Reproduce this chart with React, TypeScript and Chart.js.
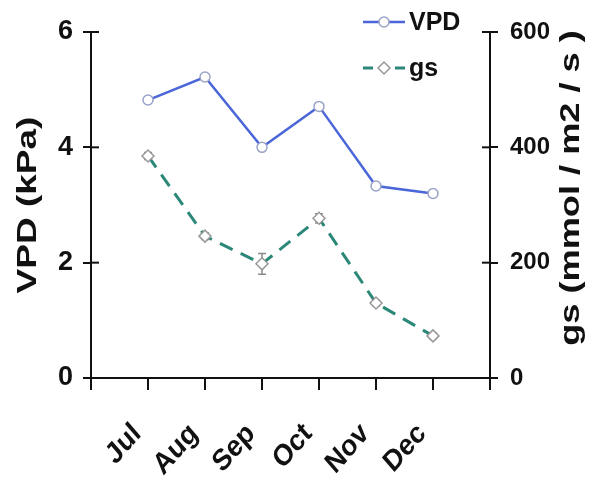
import React, { useEffect, useRef } from "react";
import { Chart, registerables } from "chart.js";

Chart.register(...registerables);

const months = ["Jul", "Aug", "Sep", "Oct", "Nov", "Dec"];
const vpd = [4.82, 5.22, 4.0, 4.71, 3.33, 3.2];
const gs = [385, 246, 198, 277, 130, 73];
const gsErr = [6, 6, 18, 8, 5, 5];
const vpdTicks = [0, 2, 4, 6];
const gsTicks = [0, 200, 400, 600];

const FONT = "'Liberation Sans', Arial, sans-serif";
const VPD_COLOR = "#4A66D8";
const GS_COLOR = "#2B8777";

const extrasPlugin = {
  id: "extras",
  beforeDatasetsDraw(chart: any) {
    const ctx = chart.ctx;
    const x = chart.scales.x;
    const y2 = chart.scales.y2;
    ctx.save();
    ctx.strokeStyle = "#8a8a8a";
    ctx.lineWidth = 1.5;
    gs.forEach((v, i) => {
      const px = x.getPixelForValue(i + 1);
      const top = y2.getPixelForValue(v + gsErr[i]);
      const bot = y2.getPixelForValue(v - gsErr[i]);
      ctx.beginPath();
      ctx.moveTo(px, top);
      ctx.lineTo(px, bot);
      ctx.moveTo(px - 4, top);
      ctx.lineTo(px + 4, top);
      ctx.moveTo(px - 4, bot);
      ctx.lineTo(px + 4, bot);
      ctx.stroke();
    });
    ctx.restore();
  },
  afterDraw(chart: any) {
    const ctx = chart.ctx;
    const area = chart.chartArea;
    const x = chart.scales.x;
    const y = chart.scales.y;
    const y2 = chart.scales.y2;
    ctx.save();
    // inward tick halves
    ctx.strokeStyle = "#111";
    ctx.lineWidth = 2;
    vpdTicks.forEach((t) => {
      const py = y.getPixelForValue(t);
      ctx.beginPath();
      ctx.moveTo(area.left, py);
      ctx.lineTo(area.left + 8, py);
      ctx.stroke();
    });
    gsTicks.forEach((t) => {
      const py = y2.getPixelForValue(t);
      ctx.beginPath();
      ctx.moveTo(area.right, py);
      ctx.lineTo(area.right - 8, py);
      ctx.stroke();
    });
    // x tick labels (rotated, slightly stretched)
    ctx.fillStyle = "#111";
    ctx.font = `bold 26px ${FONT}`;
    ctx.textAlign = "right";
    ctx.textBaseline = "middle";
    months.forEach((m, i) => {
      const px = x.getPixelForValue(i + 1);
      ctx.save();
      ctx.translate(px - 11, area.bottom + 51);
      ctx.scale(1, 1.15);
      ctx.rotate(-Math.PI / 4);
      ctx.fillText(m, 0, 0);
      ctx.restore();
    });
    // axis titles
    ctx.font = `bold 27px ${FONT}`;
    ctx.textAlign = "center";
    ctx.textBaseline = "middle";
    ctx.save();
    ctx.translate(29, 205);
    ctx.rotate(-Math.PI / 2);
    ctx.scale(1.37, 1);
    ctx.fillText("VPD (kPa)", 0, 0);
    ctx.restore();
    ctx.save();
    ctx.translate(572, 188);
    ctx.rotate(-Math.PI / 2);
    ctx.scale(1.34, 1);
    ctx.fillText("gs (mmol / m2 / s )", 0, 0);
    ctx.restore();
    // legend
    const items = [
      { label: "VPD", color: VPD_COLOR, dash: [], yy: 22, style: "circle", border: "#9aa3c8" },
      { label: "gs", color: GS_COLOR, dash: [10, 6], yy: 68, style: "diamond", border: "#999" },
    ];
    items.forEach((it) => {
      ctx.save();
      ctx.strokeStyle = it.color;
      ctx.lineWidth = it.style === "circle" ? 2.5 : 3;
      ctx.setLineDash(it.dash);
      ctx.beginPath();
      ctx.moveTo(363, it.yy);
      ctx.lineTo(405, it.yy);
      ctx.stroke();
      ctx.setLineDash([]);
      ctx.fillStyle = "#fff";
      ctx.strokeStyle = it.border;
      ctx.lineWidth = 1.5;
      ctx.beginPath();
      if (it.style === "circle") {
        ctx.arc(384, it.yy, 5, 0, Math.PI * 2);
      } else {
        ctx.moveTo(384, it.yy - 6);
        ctx.lineTo(390, it.yy);
        ctx.lineTo(384, it.yy + 6);
        ctx.lineTo(378, it.yy);
        ctx.closePath();
      }
      ctx.fill();
      ctx.stroke();
      ctx.fillStyle = "#111";
      ctx.font = `bold 25px ${FONT}`;
      ctx.textAlign = "left";
      ctx.textBaseline = "middle";
      ctx.fillText(it.label, 409, it.yy + 1);
      ctx.restore();
    });
    ctx.restore();
  },
};

export default function App() {
  const ref = useRef<HTMLCanvasElement>(null);
  useEffect(() => {
    if (!ref.current) return;
    const chart = new Chart(ref.current, {
      type: "line",
      data: {
        datasets: [
          {
            label: "VPD",
            data: vpd.map((v, i) => ({ x: i + 1, y: v })),
            yAxisID: "y",
            borderColor: VPD_COLOR,
            borderWidth: 2.5,
            pointStyle: "circle",
            pointRadius: 5,
            pointBackgroundColor: "#fff",
            pointBorderColor: "#9aa3c8",
            pointBorderWidth: 1.5,
            tension: 0,
          },
          {
            label: "gs",
            data: gs.map((v, i) => ({ x: i + 1, y: v })),
            yAxisID: "y2",
            borderColor: GS_COLOR,
            borderWidth: 3,
            borderDash: [14, 9],
            pointStyle: "rectRot",
            pointRadius: 6,
            pointBackgroundColor: "#fff",
            pointBorderColor: "#999",
            pointBorderWidth: 1.5,
            tension: 0,
          },
        ],
      },
      options: {
        animation: false,
        responsive: false,
        layout: { padding: { top: 32, left: 0, right: 0, bottom: 0 } },
        plugins: { legend: { display: false }, tooltip: { enabled: false } },
        scales: {
          x: {
            type: "linear",
            min: 0,
            max: 7,
            afterFit: (s: any) => { s.height = 105; },
            afterBuildTicks: (s: any) => {
              s.ticks = [0, 1, 2, 3, 4, 5, 6, 7].map((v) => ({ value: v }));
            },
            ticks: {
              autoSkip: false,
              maxRotation: 0,
              color: "#111",
              callback: () => "",
            },
            grid: { drawOnChartArea: false, color: "#111", lineWidth: 2, tickLength: 12 },
            border: { color: "#111", width: 2 },
          },
          y: {
            position: "left",
            min: 0,
            max: 6,
            afterFit: (s: any) => { s.width = 91; },
            afterBuildTicks: (s: any) => { s.ticks = vpdTicks.map((v) => ({ value: v })); },
            ticks: {
              padding: 10,
              color: "#111",
              font: { family: FONT, size: 27, weight: "bold" },
            },
            grid: { drawOnChartArea: false, color: "#111", lineWidth: 2, tickLength: 8 },
            border: { color: "#111", width: 2 },
          },
          y2: {
            position: "right",
            min: 0,
            max: 600,
            afterFit: (s: any) => { s.width = 102; },
            afterBuildTicks: (s: any) => { s.ticks = gsTicks.map((v) => ({ value: v })); },
            ticks: {
              padding: 12,
              color: "#111",
              font: { family: FONT, size: 24, weight: "bold" },
            },
            grid: { drawOnChartArea: false, color: "#111", lineWidth: 2, tickLength: 8 },
            border: { color: "#111", width: 2 },
          },
        },
      },
      plugins: [extrasPlugin],
    } as any);
    return () => chart.destroy();
  }, []);
  return (
    <div style={{ position: "fixed", left: 0, top: 0, width: 592, height: 483, background: "#fff" }}>
      <canvas ref={ref} width={592} height={483} style={{ width: 592, height: 483 }} />
    </div>
  );
}
